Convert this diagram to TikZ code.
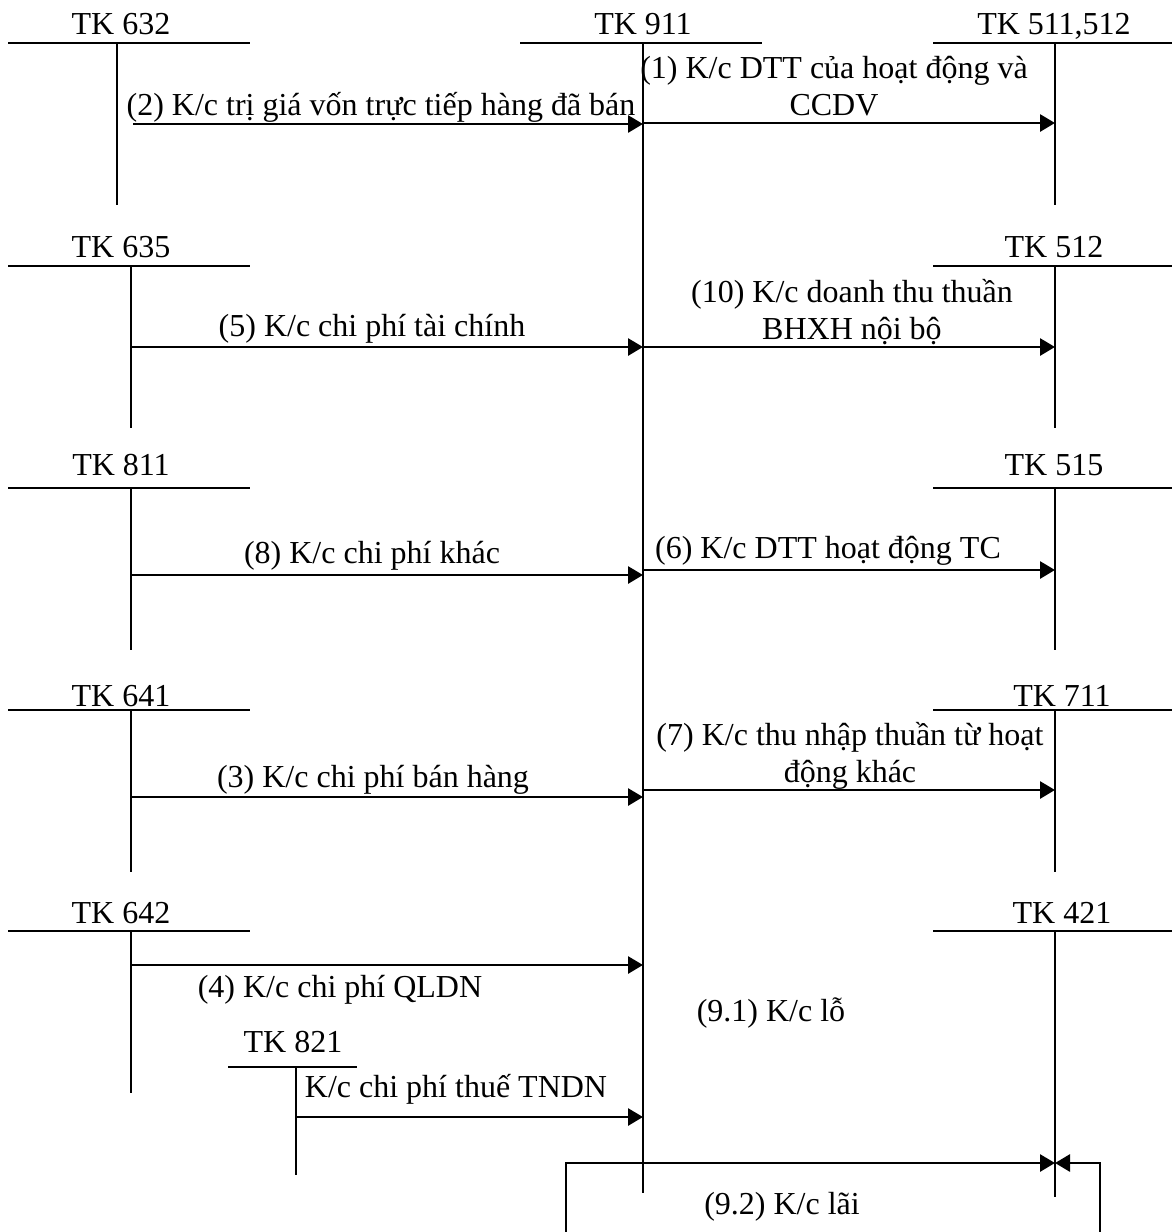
\documentclass[tikz,border=0pt]{standalone}
\usepackage{fontspec}
\setmainfont{Liberation Serif}
\usetikzlibrary{arrows.meta}
\begin{document}
\begin{tikzpicture}[x=1pt,y=-1pt,
  acc/.style={line width=2.2pt},
  arr/.style={line width=2.8pt,-{Triangle[length=15pt,width=17pt]}},
  lbl/.style={inner sep=0pt,anchor=base,font=\fontsize{32}{37}\selectfont,align=center}]
\useasboundingbox (0,0) rectangle (1172,1232);
% ---- T accounts: left column
\foreach \n/\t/\y/\vx/\b/\ty in {a632/TK 632/43/117/205/34, a635/TK 635/266/131/428/257, a811/TK 811/488/131/650/475, a641/TK 641/710/131/872/706, a642/TK 642/931/131/1093/923}{
  \coordinate (\n-l) at (8,\y);
  \coordinate (\n-r) at (250,\y);
  \coordinate (\n-t) at (\vx,\y);
  \coordinate (\n-b) at (\vx,\b);
  \draw[acc] (\n-l) -- (\n-r);
  \draw[acc] (\n-t) -- (\n-b);
  \node[lbl] (\n) at (121,\ty) {\t};
}
% ---- right column
\foreach \n/\t/\y/\b/\lx/\ty in {b511/TK 511{,}512/43/205/1054/34, b512/TK 512/266/428/1054/257, b515/TK 515/488/650/1054/475, b711/TK 711/710/872/1062/706, b421/TK 421/931/1197/1062/923}{
  \coordinate (\n-l) at (933,\y);
  \coordinate (\n-r) at (1172,\y);
  \coordinate (\n-t) at (1055,\y);
  \coordinate (\n-b) at (1055,\b);
  \draw[acc] (\n-l) -- (\n-r);
  \draw[acc] (\n-t) -- (\n-b);
  \node[lbl] (\n) at (\lx,\ty) {\t};
}
% ---- TK 911
\coordinate (c911-l) at (520,43);
\coordinate (c911-r) at (762,43);
\coordinate (c911-t) at (643,43);
\coordinate (c911-b) at (643,1193);
\draw[acc] (c911-l) -- (c911-r);
\draw[acc] (c911-t) -- (c911-b);
\node[lbl] (c911) at (643,34) {TK 911};
% ---- TK 821
\coordinate (d821-l) at (228,1067);
\coordinate (d821-r) at (357,1067);
\coordinate (d821-t) at (296,1067);
\coordinate (d821-b) at (296,1175);
\draw[acc] (d821-l) -- (d821-r);
\draw[acc] (d821-t) -- (d821-b);
\node[lbl] (d821) at (293,1052) {TK 821};
% ---- arrows into 911
\coordinate (s2) at (133,124);  \coordinate (e2) at (643,124);
\draw[arr] (s2) -- (e2);
\node[lbl] (t2) at (381,115) {(2) K/c trị giá vốn trực tiếp hàng đã bán};
\coordinate (s5) at (131,347);  \coordinate (e5) at (643,347);
\draw[arr] (s5) -- (e5);
\node[lbl] (t5) at (372,336) {(5) K/c chi phí tài chính};
\coordinate (s8) at (131,575);  \coordinate (e8) at (643,575);
\draw[arr] (s8) -- (e8);
\node[lbl] (t8) at (372,563) {(8) K/c chi phí khác};
\coordinate (s3) at (131,797);  \coordinate (e3) at (643,797);
\draw[arr] (s3) -- (e3);
\node[lbl] (t3) at (373,787) {(3) K/c chi phí bán hàng};
\coordinate (s4) at (131,965);  \coordinate (e4) at (643,965);
\draw[arr] (s4) -- (e4);
\node[lbl] (t4) at (340,997) {(4) K/c chi phí QLDN};
\coordinate (s821) at (296,1117);  \coordinate (e821) at (643,1117);
\draw[arr] (s821) -- (e821);
\node[lbl] (t821) at (456,1097) {K/c chi phí thuế TNDN};
% ---- arrows out of 911
\coordinate (s1) at (643,123);  \coordinate (e1) at (1055,123);
\draw[arr] (s1) -- (e1);
\node[lbl] (t1) at (834,115) {(1) K/c DTT của hoạt động và\\CCDV};
\coordinate (s10) at (643,347);  \coordinate (e10) at (1055,347);
\draw[arr] (s10) -- (e10);
\node[lbl] (t10) at (852,339) {(10) K/c doanh thu thuần\\BHXH nội bộ};
\coordinate (s6) at (643,570);  \coordinate (e6) at (1055,570);
\draw[arr] (s6) -- (e6);
\node[lbl] (t6) at (828,558) {(6) K/c DTT hoạt động TC};
\coordinate (s7) at (643,790);  \coordinate (e7) at (1055,790);
\draw[arr] (s7) -- (e7);
\node[lbl] (t7) at (850,782) {(7) K/c thu nhập thuần từ hoạt\\động khác};
% ---- 9.1 and 9.2
\node[lbl] (t91) at (771,1021) {(9.1) K/c lỗ};
\coordinate (p1) at (566,1232);
\coordinate (p2) at (566,1163);
\coordinate (p3) at (1100,1232);
\coordinate (p4) at (1100,1163);
\coordinate (e92) at (1055,1163);
\draw[arr] (p1) -- (p2) -- (e92);
\draw[arr] (p3) -- (p4) -- (e92);
\node[lbl] (t92) at (782,1214) {(9.2) K/c lãi};
\end{tikzpicture}
\end{document}
